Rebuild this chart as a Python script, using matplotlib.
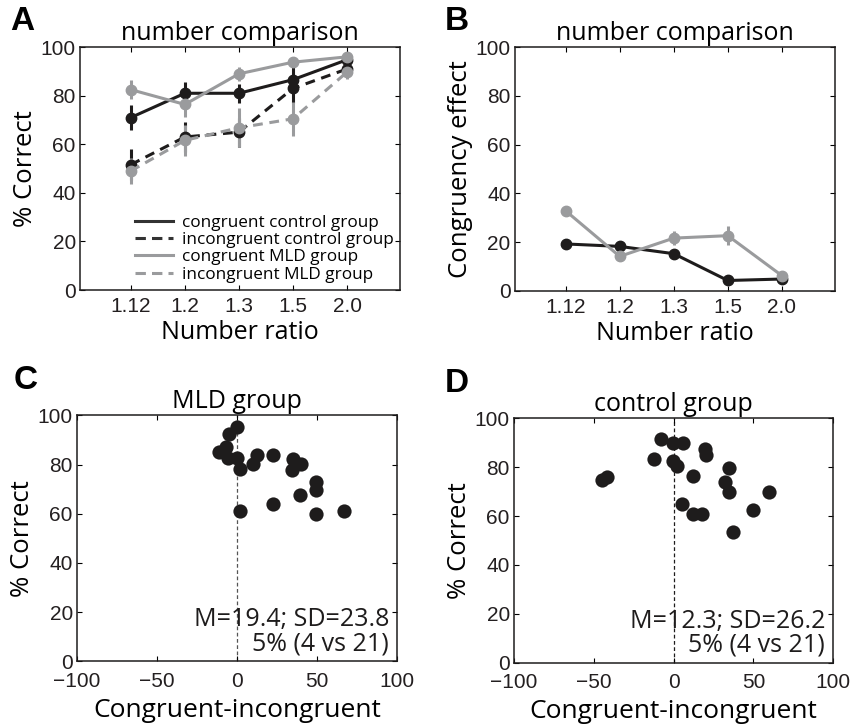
import numpy as np
import matplotlib
matplotlib.use('Agg')
from matplotlib import pyplot as plt
from matplotlib.lines import Line2D

ratios = ['1.12', '1.2', '1.3', '1.5', '2.0']

# panel A: % correct
cong_ctrl = [71, 81, 81, 86.6, 94.8]
cong_ctrl_err = [5, 4.5, 4, 6, 2]
incong_ctrl = [51.6, 63, 65, 83, 91]
incong_ctrl_err = [6.5, 6, 6, 6, 2]
cong_mld = [82.5, 76.4, 89, 93.8, 96]
cong_mld_err = [4, 5, 3, 2, 2]
incong_mld = [49, 61.6, 66.8, 70.5, 89.7]
incong_mld_err = [5.5, 6.5, 8, 7, 3]

# panel B: congruency effect
eff_ctrl = [19.2, 18.2, 15.2, 4.2, 4.8]
eff_ctrl_err = [1, 1, 1, 1, 1]
eff_mld = [32.8, 14.1, 21.6, 22.6, 6.2]
eff_mld_err = [2, 2, 3, 4, 2]

# panel C: MLD group
mld_x = [0.2, -4.8, -11, -7, -5.6, -0.2, 1.9, 10.2, 12.3, 22.3, 34.8, 40, 34.2,
         49.4, 49.4, 39.4, 22.3, 1.9, 49.4, 66.9]
mld_y = [95.2, 92.6, 85.2, 87, 82.5, 82.8, 78.3, 80.4, 84.1, 84.1, 82.4, 80.4, 77.6,
         72.9, 69.8, 67.5, 63.8, 61.1, 60, 61.1]

# panel D: control group
ctrl_x = [-45, -41.9, -8, -0.5, 5.8, -12.2, -0.5, 2.4, 19.7, 20.4, 12, 34.8, 32.3,
          34.8, 59.5, 49.7, 37.1, 5.1, 12, 18.1]
ctrl_y = [74.7, 76.1, 91.4, 90, 90, 83.5, 82.5, 80.5, 87.3, 84.8, 76.4, 79.8, 73.9,
          69.9, 69.9, 62.4, 53.4, 64.8, 60.9, 60.9]

dark = '#1e1c1c'
grey = '#9a9b9d'
lab_font = 'Open Sans'
tick_font = 'Liberation Sans'

plt.rcParams['font.family'] = tick_font
plt.rcParams['xtick.direction'] = 'in'
plt.rcParams['ytick.direction'] = 'in'
plt.rcParams['xtick.top'] = True
plt.rcParams['ytick.right'] = True
plt.rcParams['xtick.major.size'] = 3.5
plt.rcParams['ytick.major.size'] = 3.5
plt.rcParams['axes.linewidth'] = 1.1

fig = plt.figure(figsize=(8.51, 7.25), dpi=100)

axA = fig.add_axes([0.094, 0.600, 0.376, 0.335])
axB = fig.add_axes([0.605, 0.599, 0.376, 0.336])
axC = fig.add_axes([0.0905, 0.088, 0.376, 0.339])
axD = fig.add_axes([0.604, 0.086, 0.375, 0.337])

x = np.arange(1, 6)
dash = (0, (3.2, 2.2))


def line(ax, y, err, col, ls):
    ax.errorbar(x, y, yerr=err, color=col, ecolor=col, elinewidth=2.2,
                capsize=0, lw=2.2, ls=ls, marker='o', ms=7.5, mec=col)


line(axA, cong_ctrl, cong_ctrl_err, dark, '-')
line(axA, incong_ctrl, incong_ctrl_err, dark, dash)
line(axA, cong_mld, cong_mld_err, grey, '-')
line(axA, incong_mld, incong_mld_err, grey, dash)

line(axB, eff_ctrl, eff_ctrl_err, dark, '-')
line(axB, eff_mld, eff_mld_err, grey, '-')

leg_dash = (0, (3.4, 2.0))
handles = [Line2D([], [], color='#333333', lw=2.2, ls='-'),
           Line2D([], [], color='#333333', lw=2.2, ls=leg_dash),
           Line2D([], [], color=grey, lw=2.2, ls='-'),
           Line2D([], [], color=grey, lw=2.2, ls=leg_dash)]
labels = ['congruent control group', 'incongruent control group',
          'congruent MLD group', 'incongruent MLD group']
axA.legend(handles, labels, loc='lower left', bbox_to_anchor=(0.172, 0.03),
           frameon=False, handlelength=2.2, handletextpad=0.55, labelspacing=0.08,
           borderpad=0, borderaxespad=0, prop={'family': lab_font, 'size': 12.3})

for ax, yl in [(axA, '% Correct'), (axB, 'Congruency effect')]:
    ax.set_xlim(0.06, 5.98)
    ax.set_ylim(0, 100)
    ax.set_xticks(x)
    ax.set_xticklabels(ratios)
    ax.set_yticks([0, 20, 40, 60, 80, 100])
    ax.set_title('number comparison', family=lab_font, fontsize=18, pad=5)
    ax.set_xlabel('Number ratio', family=lab_font, fontsize=18, labelpad=3)
    ax.set_ylabel(yl, family=lab_font, fontsize=18.5, labelpad=2)
    ax.tick_params(axis='x', pad=5)

texts = [(axC, mld_x, mld_y, 'MLD group', 'M=19.4; SD=23.8\n5% (4 vs 21)', '#555555'),
         (axD, ctrl_x, ctrl_y, 'control group', 'M=12.3; SD=26.2\n5% (4 vs 21)', dark)]
for ax, sx, sy, title, note, vcol in texts:
    ax.axvline(0, color=vcol, lw=0.9, ls=(0, (3, 2)), zorder=1)
    ax.scatter(sx, sy, s=105, color=dark, zorder=3, linewidths=0)
    ax.set_xlim(-100, 100)
    ax.set_ylim(0, 100)
    ax.set_xticks([-100, -50, 0, 50, 100])
    ax.set_yticks([0, 20, 40, 60, 80, 100])
    ax.set_title(title, family=lab_font, fontsize=18, pad=5)
    ax.set_xlabel('Congruent-incongruent', family=lab_font, fontsize=19, labelpad=5)
    ax.set_ylabel('% Correct', family=lab_font, fontsize=18.5, labelpad=2)
    ax.text(95, 2, note, ha='right', va='bottom', multialignment='right',
            family=lab_font, fontsize=18, linespacing=0.95, color=dark, zorder=4)
    ax.tick_params(axis='x', pad=7.5)

for ax in [axA, axB, axC, axD]:
    ax.tick_params(labelsize=15, colors='black', labelcolor='#231f20')
    ax.tick_params(axis='y', pad=3)
    for s in ax.spines.values():
        s.set_color(dark)

fig.text(0.012, 0.992, 'A', fontsize=24, fontweight='bold', va='top', family=tick_font)
fig.text(0.523, 0.992, 'B', fontsize=24, fontweight='bold', va='top', family=tick_font)
fig.text(0.016, 0.497, 'C', fontsize=24, fontweight='bold', va='top', family=tick_font)
fig.text(0.523, 0.492, 'D', fontsize=24, fontweight='bold', va='top', family=tick_font)

fig.savefig('out.png', dpi=100)
